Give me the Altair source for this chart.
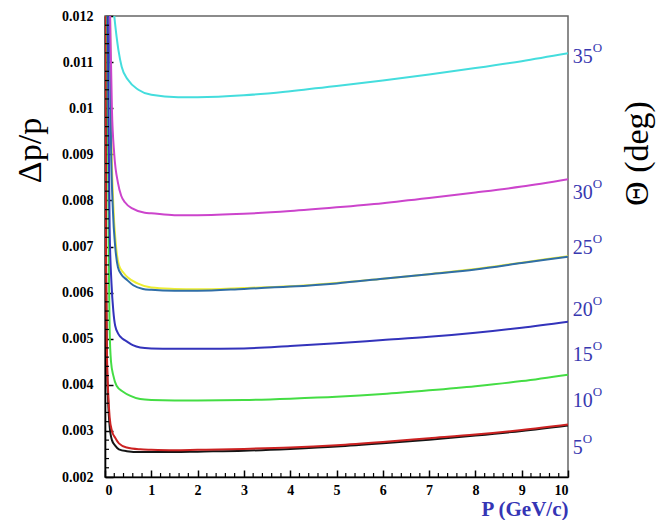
import altair as alt
import pandas as pd

W, H = 463, 461

# ---- curve data ----
black_p = [0.01, 0.02, 0.04, 0.07, 0.1, 0.15, 0.22, 0.3, 0.47, 0.76, 1, 1.5, 2, 3, 4, 5, 6, 7, 8, 9, 10]
black_v = [0.012, 0.0068, 0.0046, 0.0036, 0.0031, 0.0028, 0.00268, 0.0026, 0.00256, 0.00254, 0.00254,
           0.00254, 0.00255, 0.00257, 0.00261, 0.00266, 0.00273, 0.00281, 0.0029, 0.003, 0.00312]

red_p = [0.01, 0.02, 0.04, 0.07, 0.1, 0.15, 0.22, 0.3, 0.47, 0.76, 1, 1.5, 2, 3, 4, 5, 6, 7, 8, 9, 10]
red_v = [0.012, 0.0070, 0.0048, 0.0038, 0.0033, 0.0030, 0.00285, 0.00273, 0.00264, 0.0026, 0.00259,
         0.00258, 0.00259, 0.00261, 0.00264, 0.00269, 0.00276, 0.00284, 0.00292, 0.00302, 0.00314]

green_p = [0.05, 0.08, 0.1, 0.13, 0.18, 0.25, 0.39, 0.55, 0.76, 1, 1.5, 2, 3, 4, 5, 6, 7, 8, 9, 10]
green_v = [0.012, 0.0068, 0.0052, 0.0045, 0.0042, 0.00398, 0.00385, 0.00376, 0.00369, 0.00367, 0.00366,
           0.00366, 0.00367, 0.0037, 0.00374, 0.0038, 0.00388, 0.00397, 0.00408, 0.00422]

blue_p = [0.06, 0.08, 0.1, 0.14, 0.18, 0.22, 0.29, 0.38, 0.47, 0.6, 0.76, 1, 1.5, 2, 3, 4, 5, 6, 7, 8, 9, 10]
blue_v = [0.012, 0.0095, 0.0074, 0.0062, 0.0056, 0.00528, 0.0051, 0.005, 0.00494, 0.00486, 0.00481, 0.00479,
          0.00478, 0.00478, 0.00479, 0.00484, 0.0049, 0.00497, 0.00504, 0.00513, 0.00524, 0.00537]

yellow_p = [0.11, 0.14, 0.18, 0.23, 0.3, 0.4, 0.5, 0.7, 1, 1.5, 2, 3, 4, 5, 6, 7, 8, 9, 10]
yellow_v = [0.012, 0.0093, 0.0079, 0.0071, 0.0066, 0.00643, 0.00632, 0.0062, 0.00611, 0.00608, 0.00607,
            0.0061, 0.00614, 0.00621, 0.0063, 0.0064, 0.00651, 0.00665, 0.00679]

steel_p = [0.1, 0.13, 0.17, 0.22, 0.28, 0.35, 0.47, 0.61, 0.82, 1, 1.5, 2, 3, 4, 5, 6, 7, 8, 9, 10]
steel_v = [0.012, 0.0092, 0.0078, 0.0070, 0.00655, 0.0064, 0.00628, 0.00616, 0.00608, 0.00606, 0.00604,
           0.00604, 0.00608, 0.00613, 0.0062, 0.0063, 0.0064, 0.0065, 0.00664, 0.00678]

magenta_p = [0.11, 0.15, 0.2, 0.28, 0.35, 0.43, 0.6, 0.86, 1, 1.5, 2, 3, 4, 5, 6, 7, 8, 9, 10]
magenta_v = [0.012, 0.00996, 0.0090, 0.00838, 0.0081, 0.00796, 0.00782, 0.00773, 0.00772, 0.00768, 0.00768,
             0.00771, 0.00777, 0.00785, 0.00794, 0.00805, 0.00817, 0.0083, 0.00846]

cyan_p = [0.2, 0.25, 0.29, 0.36, 0.5, 0.72, 1, 1.58, 2, 3, 4, 5, 6, 7, 8, 9, 10]
cyan_v = [0.012, 0.01155, 0.01126, 0.0109, 0.01061, 0.0104, 0.01029, 0.01024, 0.01024, 0.01028,
          0.01037, 0.01048, 0.0106, 0.01073, 0.01087, 0.01102, 0.01119]

# ---- angle labels on the right ----
angle_text = ["5", "10", "15", "20", "25", "30", "35"]
angle_y = [0.00263, 0.00365, 0.00465, 0.00562, 0.00697, 0.00816, 0.01111]
angle_p = [10.1] * len(angle_text)

# ---- tick positions ----
x_major = [0, 1, 2, 3, 4, 5, 6, 7, 8, 9, 10]
y_major = [0.002, 0.003, 0.004, 0.005, 0.006, 0.007, 0.008, 0.009, 0.01, 0.011, 0.012]
x_minor = [round(i * 0.2, 2) for i in range(51) if i % 5]
y_minor = [round(0.002 + i * 0.0002, 5) for i in range(51) if i % 5]

curves = [
    ("black", black_p, black_v, "#151515"),
    ("red", red_p, red_v, "#cc2222"),
    ("green", green_p, green_v, "#44dd44"),
    ("blue", blue_p, blue_v, "#3333bb"),
    ("yellow", yellow_p, yellow_v, "#eeee33"),
    ("steel", steel_p, steel_v, "#2f6ea8"),
    ("magenta", magenta_p, magenta_v, "#cc44cc"),
    ("cyan", cyan_p, cyan_v, "#44dddd"),
]

rows = []
for name, ps, vs, _c in curves:
    for p, v in zip(ps, vs):
        rows.append({"curve": name, "P": p, "dpp": v})
df = pd.DataFrame(rows)

lab_df = pd.DataFrame({"t": angle_text, "P": angle_p, "dpp": angle_y})

X0, X1, Y0, Y1 = 0, 10, 0.002, 0.012
xs = alt.Scale(domain=[X0, X1], nice=False, zero=False)
ys = alt.Scale(domain=[Y0, Y1], nice=False, zero=False)

SERIF = "Liberation Serif"

base = alt.Chart(df)

# axis host layer: labels, titles, black axis lines and inward major ticks
# (negative tick size given as an expression so the ticks point into the plot)
ax_main = base.mark_point(opacity=0, size=1).encode(
    x=alt.X("P:Q", scale=xs, axis=alt.Axis(
        orient="bottom", values=x_major, ticks=True, tickSize={"expr": "-7"},
        tickColor="black", tickWidth=1.5, labelPadding=13,
        labelFont=SERIF, labelFontWeight="bold", labelFontSize=14, labelColor="black",
        domain=True, domainColor="black", domainWidth=1.6, grid=False,
        title="P (GeV/c)", titleFont=SERIF, titleFontWeight="bold", titleFontSize=21,
        titleColor="#3535b5", titleAnchor="end", titleBaseline="alphabetic", titleY=38)),
    y=alt.Y("dpp:Q", scale=ys, axis=alt.Axis(
        orient="left", values=y_major, format="~g", ticks=True, tickSize={"expr": "-8"},
        tickColor="black", tickWidth=1.5, labelPadding=20,
        labelFont=SERIF, labelFontWeight="bold", labelFontSize=14, labelColor="black",
        domain=True, domainColor="black", domainWidth=1.6, grid=False,
        title="Δp/p", titleFont=SERIF, titleFontWeight="normal", titleFontSize=34,
        titleColor="black", titleAngle=270, titleAlign="center", titleBaseline="middle",
        titleX=-75, titleY=134)),
)

# right title
ax_right = base.mark_point(opacity=0, size=1).encode(
    x=alt.X("P:Q", scale=xs, axis=None),
    y=alt.Y("dpp:Q", scale=ys, axis=alt.Axis(
        orient="right", labels=False, ticks=False, domain=False, grid=False,
        title="Θ (deg)", titleFont=SERIF, titleFontWeight="normal", titleFontSize=34,
        titleColor="black", titleAngle=270, titleAlign="center", titleBaseline="middle",
        titleX=69, titleY=137)),
)

# minor ticks as short two-point segments from the axis lines into the plot
PX_X = (X1 - X0) / W
PX_Y = (Y1 - Y0) / H


def seg_df(prefix, vals, length, horizontal):
    r = []
    for i, v in enumerate(vals):
        sid = f"{prefix}{i}"
        if horizontal:
            r.append({"sid": sid, "sx": X0, "sy": v, "k": 0})
            r.append({"sid": sid, "sx": X0 + length * PX_X, "sy": v, "k": 1})
        else:
            r.append({"sid": sid, "sx": v, "sy": Y0, "k": 0})
            r.append({"sid": sid, "sx": v, "sy": Y0 + length * PX_Y, "k": 1})
    return pd.DataFrame(r)


def seg_layer(d, width):
    return alt.Chart(d).mark_line(color="black", strokeWidth=width, strokeCap="butt").encode(
        x=alt.X("sx:Q", scale=xs, axis=None),
        y=alt.Y("sy:Q", scale=ys, axis=None),
        detail="sid:N",
        order="k:Q",
    )


layers = [ax_main, ax_right]
for name, _p, _v, col in curves:
    layers.append(
        base.transform_filter(alt.datum.curve == name)
        .mark_line(color=col, strokeWidth=2, clip=True, interpolate="monotone")
        .encode(x=alt.X("P:Q", scale=xs, axis=None),
                y=alt.Y("dpp:Q", scale=ys, axis=None))
    )

layers += [
    seg_layer(seg_df("xm", x_minor, 4, False), 1.2),
    seg_layer(seg_df("ym", y_minor, 4, True), 1.2),
]

lab_num = alt.Chart(lab_df).mark_text(
    font=SERIF, fontSize=20, color="#3838b0", align="left", baseline="middle"
).encode(x=alt.X("P:Q", scale=xs, axis=None), y=alt.Y("dpp:Q", scale=ys, axis=None), text="t:N")

lab_deg1 = alt.Chart(lab_df).transform_filter("length(datum.t) == 1").mark_text(
    font=SERIF, fontSize=13, color="#3838b0", align="left", baseline="middle", dx=10, dy=-9
).encode(x=alt.X("P:Q", scale=xs, axis=None), y=alt.Y("dpp:Q", scale=ys, axis=None), text=alt.value("O"))

lab_deg2 = alt.Chart(lab_df).transform_filter("length(datum.t) == 2").mark_text(
    font=SERIF, fontSize=13, color="#3838b0", align="left", baseline="middle", dx=20, dy=-9
).encode(x=alt.X("P:Q", scale=xs, axis=None), y=alt.Y("dpp:Q", scale=ys, axis=None), text=alt.value("O"))

layers += [lab_num, lab_deg1, lab_deg2]

chart = alt.layer(*layers).resolve_scale(x="shared", y="shared").resolve_axis(
    x="independent", y="independent"
).properties(
    width=W, height=H,
    padding={"left": 105, "top": 16, "right": 88, "bottom": 43},
    autosize=alt.AutoSizeParams(type="none"),
    background="white",
).configure_view(stroke="#666666", strokeWidth=1.5)

chart.save("out.html", embed_options={"renderer": "svg", "actions": False})
